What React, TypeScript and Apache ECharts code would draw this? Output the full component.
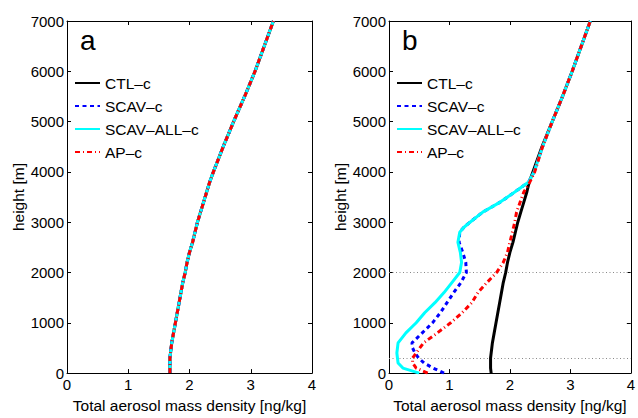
import React, { useEffect, useRef } from "react";
import * as echarts from "echarts";

const HEIGHTS = [0, 100, 200, 300, 400, 500, 600, 800, 1000, 1200, 1400, 1600, 1800, 2000, 2200, 2400, 2600, 2800, 2900, 3000, 3200, 3400, 3600, 3800, 4000, 4500, 5000, 5500, 6000, 6500, 7000];

// Panel a: all four runs coincide
const CTL_A = [1.68, 1.68, 1.68, 1.68, 1.69, 1.70, 1.71, 1.74, 1.77, 1.80, 1.83, 1.86, 1.89, 1.93, 1.96, 2.00, 2.05, 2.09, 2.11, 2.13, 2.18, 2.23, 2.28, 2.33, 2.39, 2.55, 2.72, 2.90, 3.07, 3.22, 3.37];

// Panel b
const CTL_B = [1.69, 1.68, 1.68, 1.68, 1.69, 1.70, 1.71, 1.74, 1.77, 1.80, 1.83, 1.86, 1.89, 1.93, 1.96, 2.00, 2.05, 2.09, 2.11, 2.13, 2.18, 2.23, 2.28, 2.32, 2.38, 2.53, 2.70, 2.87, 3.03, 3.18, 3.33];
const SCAV_B = [0.91, 0.73, 0.58, 0.49, 0.43, 0.39, 0.38, 0.55, 0.72, 0.85, 0.96, 1.07, 1.19, 1.28, 1.27, 1.22, 1.16, 1.17, 1.24, 1.34, 1.55, 1.84, 2.08, 2.31, 2.40, 2.54, 2.70, 2.87, 3.03, 3.18, 3.33];
const SCAVALL_B = [0.50, 0.23, 0.15, 0.14, 0.13, 0.14, 0.15, 0.28, 0.45, 0.59, 0.76, 0.91, 1.04, 1.17, 1.20, 1.18, 1.14, 1.17, 1.24, 1.34, 1.55, 1.84, 2.08, 2.31, 2.40, 2.54, 2.70, 2.87, 3.03, 3.18, 3.33];
const AP_B = [0.64, 0.45, 0.39, 0.39, 0.45, 0.51, 0.57, 0.80, 1.02, 1.21, 1.37, 1.47, 1.62, 1.78, 1.89, 1.96, 2.00, 2.04, 2.06, 2.08, 2.11, 2.17, 2.23, 2.33, 2.41, 2.54, 2.70, 2.87, 3.03, 3.18, 3.33];

const REF_LINES_B = [2000, 300];

const NAMES = ["CTL–c", "SCAV–c", "SCAV–ALL–c", "AP–c"];
const X_TICKS = { min: 0, max: 4, interval: 1 };
const Y_TICKS = { min: 0, max: 7000, interval: 1000 };
const X_TITLE = "Total aerosol mass density [ng/kg]";
const Y_TITLE = "height [m]";
const PANEL_LABELS = ["a", "b"];

const FONT = "Liberation Sans, Arial, Helvetica, sans-serif";

const STYLES = [
  { color: "#000000", width: 3, type: "solid" as any },
  { color: "#0000ff", width: 3, type: [4, 3.5] as any },
  { color: "#00ffff", width: 3, type: "solid" as any },
  { color: "#ff0000", width: 3, type: [5, 3, 1, 3] as any },
];

function pairs(vals: number[]) {
  return HEIGHTS.map((h, i) => [vals[i], h]);
}

export default function App() {
  const ref = useRef<HTMLDivElement>(null);
  useEffect(() => {
    if (!ref.current) return;
    const chart = echarts.init(ref.current, undefined, { renderer: "svg" });
    const grids = [
      { left: 67, top: 21, width: 245, height: 361 },
      { left: 389, top: 21, width: 245, height: 361 },
    ];
    const axisLine = { show: true, onZero: false, lineStyle: { color: "#000", width: 1 } };
    const axisTick = { show: true, inside: true, length: 4, lineStyle: { color: "#000", width: 1 } };
    const plain = (v: number) => String(v);
    const xAxis: any[] = [];
    const yAxis: any[] = [];
    grids.forEach((_, g) => {
      xAxis.push({
        type: "value", gridIndex: g, position: "bottom", ...X_TICKS,
        axisLine, axisTick, splitLine: { show: false },
        axisLabel: { show: true, margin: 4, color: "#000", fontSize: 15, fontFamily: FONT, formatter: plain },
        name: X_TITLE, nameLocation: "middle", nameGap: 19,
        nameTextStyle: { color: "#000", fontSize: 15.5, fontFamily: FONT },
      });
      xAxis.push({
        type: "value", gridIndex: g, position: "top", ...X_TICKS,
        axisLine, axisTick, splitLine: { show: false }, axisLabel: { show: false },
      });
      yAxis.push({
        type: "value", gridIndex: g, position: "left", ...Y_TICKS,
        axisLine, axisTick, splitLine: { show: false },
        axisLabel: { show: true, margin: 3, color: "#000", fontSize: 15, fontFamily: FONT, formatter: plain },
        name: Y_TITLE, nameLocation: "middle", nameGap: 38, nameRotate: 90,
        nameTextStyle: { color: "#000", fontSize: 15.5, fontFamily: FONT },
      });
      yAxis.push({
        type: "value", gridIndex: g, position: "right", ...Y_TICKS,
        axisLine, axisTick, splitLine: { show: false }, axisLabel: { show: false },
      });
    });

    const panelData = [
      [CTL_A, CTL_A, CTL_A, CTL_A],
      [CTL_B, SCAV_B, SCAVALL_B, AP_B],
    ];
    const series: any[] = [];
    panelData.forEach((set, g) => {
      set.forEach((vals, k) => {
        const s: any = {
          type: "line", name: NAMES[k], xAxisIndex: g * 2, yAxisIndex: g * 2,
          data: pairs(vals), symbol: "none", showSymbol: false,
          lineStyle: { ...STYLES[k] }, itemStyle: { color: STYLES[k].color },
          z: 3 + k,
        };
        if (g === 1 && k === 0) {
          s.markLine = {
            silent: true, symbol: ["none", "none"], label: { show: false },
            lineStyle: { color: "#888", type: [1, 2.5], width: 1 },
            data: REF_LINES_B.map((v) => ({ yAxis: v })),
            z: 1,
          };
        }
        series.push(s);
      });
    });

    const legend = grids.map((gr) => ({
      data: NAMES, left: gr.left + 7, top: 75, orient: "vertical",
      itemWidth: 25, itemHeight: 14, itemGap: 7, padding: 0,
      itemStyle: { opacity: 0 },
      textStyle: { color: "#000", fontSize: 15.5, fontFamily: FONT },
    }));

    chart.setOption({
      animation: false,
      backgroundColor: "#fff",
      grid: grids,
      xAxis, yAxis, series, legend,
      graphic: grids.map((gr, i) => ({
        type: "text", left: gr.left + 13, top: 26,
        style: { text: PANEL_LABELS[i], font: `28px ${FONT}`, fill: "#000" },
      })),
    });
    return () => chart.dispose();
  }, []);
  return <div ref={ref} style={{ position: "absolute", left: 0, top: 0, width: 638, height: 418, background: "#fff" }} />;
}
